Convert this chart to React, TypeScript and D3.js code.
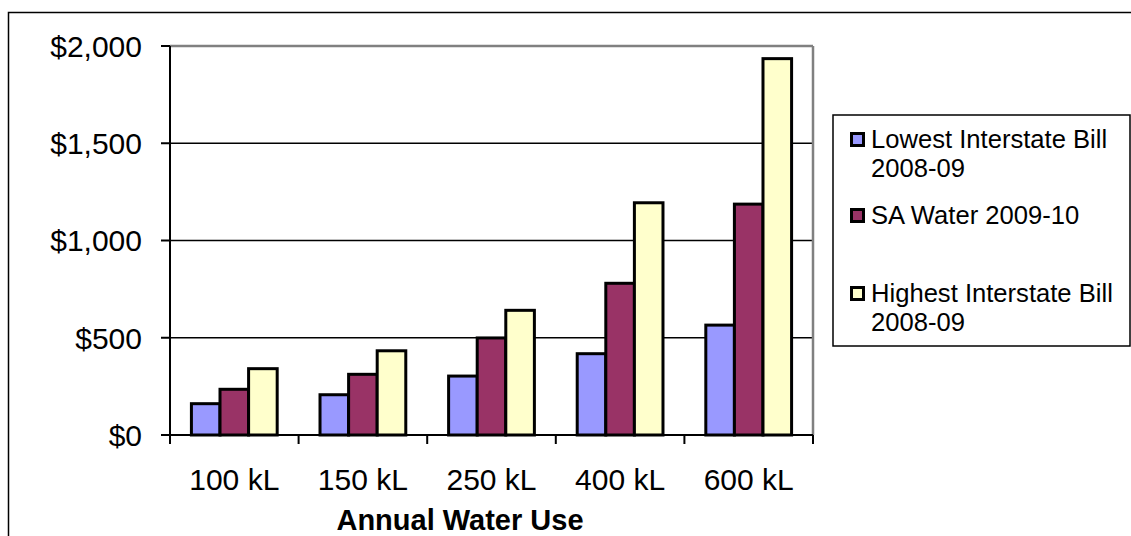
import React from "react";
import * as d3 from "d3";

const categories = ["100 kL", "150 kL", "250 kL", "400 kL", "600 kL"];
const seriesNames = ["Lowest Interstate Bill 2008-09", "SA Water 2009-10", "Highest Interstate Bill 2008-09"];
const lowest = [161, 207, 303, 418, 565];
const saWater = [235, 312, 499, 780, 1187];
const highest = [341, 433, 641, 1194, 1935];
const yTicks = [0, 500, 1000, 1500, 2000];
const colors = ["#9999FF", "#993366", "#FFFFCC"];
const legendLines = [["Lowest Interstate Bill", "2008-09"], ["SA Water 2009-10"], ["Highest Interstate Bill", "2008-09"]];

const W = 1131, H = 536;
const plot = { left: 170, right: 813, top: 46, bottom: 435 };
const font = "Arial, 'Liberation Sans', sans-serif";

export default function App() {
  const series = [lowest, saWater, highest];
  const x0 = d3.scaleBand<string>().domain(categories).range([plot.left, plot.right]).paddingInner(0.333).paddingOuter(0.1665);
  const x1 = d3.scaleBand<number>().domain([0, 1, 2]).range([0, x0.bandwidth()]);
  const y = d3.scaleLinear().domain([0, 2000]).range([plot.bottom, plot.top]);
  const step = (plot.right - plot.left) / categories.length;
  const fmt = (v: number) => "$" + d3.format(",")(v);
  const legendBaselines = [[148, 177], [224], [302, 331]];

  return (
    <svg width={W} height={H} style={{ position: "absolute", left: 0, top: 0, background: "#fff" }} fontFamily={font}>
      <rect x={8.5} y={12.5} width={W + 10} height={H + 10} fill="#fff" stroke="#000" strokeWidth={1.5} />
      {yTicks.filter(t => t > 0 && t < 2000).map(t => (
        <line key={t} x1={plot.left} x2={plot.right} y1={y(t)} y2={y(t)} stroke="#000" strokeWidth={1.5} />
      ))}
      <line x1={plot.left} x2={plot.right} y1={plot.top} y2={plot.top} stroke="#808080" strokeWidth={2.5} />
      <line x1={plot.right} x2={plot.right} y1={plot.top} y2={plot.bottom} stroke="#808080" strokeWidth={2.5} />
      {categories.map((c, i) => (
        <g key={c}>
          {series.map((s, j) => (
            <rect key={j} x={(x0(c) as number) + (x1(j) as number)} y={y(s[i])} width={x1.bandwidth()} height={plot.bottom - y(s[i])}
              fill={colors[j]} stroke="#000" strokeWidth={3} />
          ))}
        </g>
      ))}
      <line x1={plot.left} x2={plot.left} y1={plot.top} y2={plot.bottom} stroke="#000" strokeWidth={2} />
      <line x1={plot.left - 9} x2={plot.right} y1={plot.bottom} y2={plot.bottom} stroke="#000" strokeWidth={2} />
      {yTicks.map(t => (
        <g key={t}>
          <line x1={plot.left - 9} x2={plot.left} y1={y(t)} y2={y(t)} stroke="#000" strokeWidth={2} />
          <text x={142} y={y(t)} dy="0.36em" textAnchor="end" fontSize={30}>{fmt(t)}</text>
        </g>
      ))}
      {d3.range(categories.length + 1).map(k => (
        <line key={k} x1={plot.left + k * step} x2={plot.left + k * step} y1={plot.bottom} y2={plot.bottom + 9} stroke="#000" strokeWidth={2} />
      ))}
      {categories.map(c => (
        <text key={c} x={(x0(c) as number) + x0.bandwidth() / 2} y={490} textAnchor="middle" fontSize={30}>{c}</text>
      ))}
      <text x={460} y={530} textAnchor="middle" fontSize={29} fontWeight="bold">Annual Water Use</text>
      <rect x={833} y={115} width={297} height={231} fill="#fff" stroke="#000" strokeWidth={1.5} />
      {seriesNames.map((n, j) => (
        <g key={n}>
          <rect x={851.5} y={legendBaselines[j][0] - 14.5} width={12} height={12} fill={colors[j]} stroke="#000" strokeWidth={3} />
          {legendLines[j].map((ln, k) => (
            <text key={k} x={871} y={legendBaselines[j][k]} fontSize={25.6}>{ln}</text>
          ))}
        </g>
      ))}
    </svg>
  );
}
